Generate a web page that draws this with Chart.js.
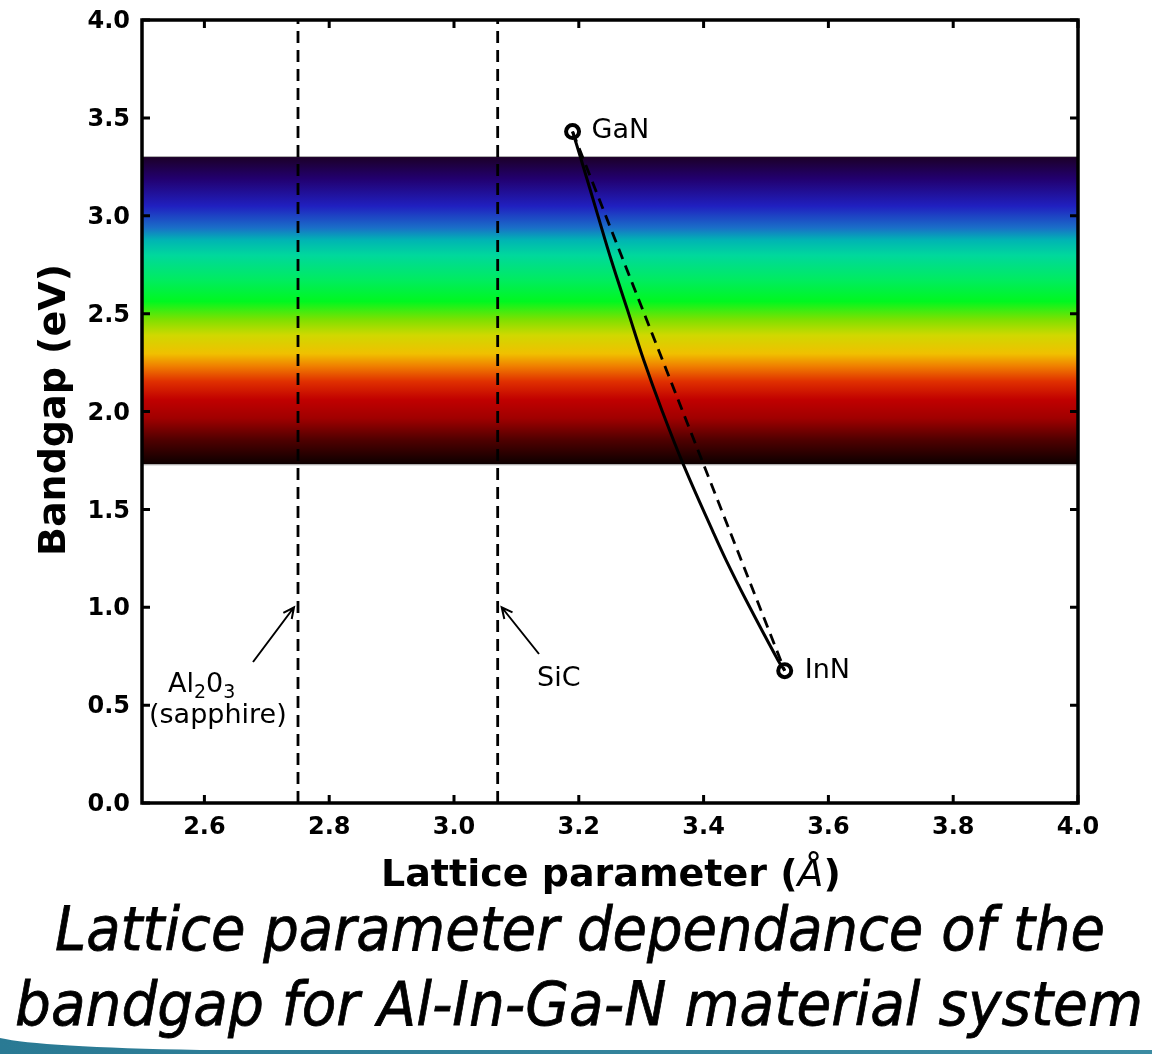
<!DOCTYPE html>
<html>
<head>
<meta charset="utf-8">
<script src="https://cdn.jsdelivr.net/npm/chart.js@4.4.0/dist/chart.umd.min.js"></script>
<style>
    html, body { margin: 0; padding: 0; background: #fff; }
    #wrap { width: 1152px; height: 1054px; }
</style>
</head>
<body>
<div id="wrap"><canvas id="bandgapChart" width="1152" height="1054"></canvas></div>
<script>
// Substrates (vertical dashed lines)
const substrateNames = ['Al2O3 (sapphire)', 'SiC'];
const substrateA = [2.75, 3.07];

// Binary end points
const binaryNames = ['GaN', 'InN'];
const binaryA = [3.19, 3.53];
const binaryE = [3.43, 0.676];

// InGaN bandgap with bowing
const bowA = [3.19, 3.204, 3.228, 3.252, 3.278, 3.304, 3.333, 3.369, 3.416, 3.436, 3.468, 3.519, 3.53];
const bowE = [3.43, 3.285, 3.029, 2.774, 2.519, 2.263, 2.008, 1.718, 1.379, 1.241, 1.037, 0.731, 0.676];

// Visible band (eV)
const visibleTop = 3.3;
const visibleBottom = 1.73;

// Axis ticks
const xTicks = [2.6, 2.8, 3.0, 3.2, 3.4, 3.6, 3.8, 4.0];
const yTicks = [0.0, 0.5, 1.0, 1.5, 2.0, 2.5, 3.0, 3.5, 4.0];

const FONT = '"DejaVu Sans", Verdana, sans-serif';

// Spectrum stops, top (3.3 eV) to bottom (1.73 eV)
const spectrumStops = [
    [0.00, '#1c0028'], [0.07, '#22006e'], [0.16, '#2020c0'], [0.23, '#1a6ec8'],
    [0.27, '#00b4b4'], [0.32, '#00d89c'], [0.40, '#00ec60'], [0.47, '#00f820'],
    [0.53, '#80e000'], [0.58, '#d0d800'], [0.64, '#f0c000'], [0.68, '#f08000'],
    [0.73, '#e03000'], [0.79, '#c00000'], [0.85, '#a00000'], [0.92, '#500000'],
    [1.00, '#0c0000']
];

// Draw the visible band behind the lines
const bandPlugin = {
    id: 'band',
    beforeDatasetsDraw(chart) {
        const { ctx, chartArea, scales } = chart;
        const yTop = scales.y.getPixelForValue(visibleTop);
        const yBot = scales.y.getPixelForValue(visibleBottom);
        const grad = ctx.createLinearGradient(0, yTop, 0, yBot);
        spectrumStops.forEach(s => grad.addColorStop(s[0], s[1]));
        ctx.save();
        ctx.fillStyle = grad;
        ctx.fillRect(chartArea.left, yTop, chartArea.right - chartArea.left, yBot - yTop);
        ctx.strokeStyle = '#b0b0b0';
        ctx.lineWidth = 1;
        ctx.beginPath();
        ctx.moveTo(chartArea.left, yTop - 0.5); ctx.lineTo(chartArea.right, yTop - 0.5);
        ctx.moveTo(chartArea.left, yBot + 0.5); ctx.lineTo(chartArea.right, yBot + 0.5);
        ctx.stroke();
        ctx.restore();
    }
};

function arrow(ctx, x0, y0, x1, y1) {
    const ang = Math.atan2(y1 - y0, x1 - x0);
    const len = 12;
    ctx.beginPath();
    ctx.moveTo(x0, y0); ctx.lineTo(x1, y1);
    ctx.moveTo(x1 - len * Math.cos(ang - 0.45), y1 - len * Math.sin(ang - 0.45));
    ctx.lineTo(x1, y1);
    ctx.lineTo(x1 - len * Math.cos(ang + 0.45), y1 - len * Math.sin(ang + 0.45));
    ctx.stroke();
}

// Frame, inward ticks, labels, titles and caption
const decorPlugin = {
    id: 'decor',
    afterDatasetsDraw(chart) {
        const { ctx, chartArea: ca, scales } = chart;
        const x = scales.x, y = scales.y;
        ctx.save();
        ctx.strokeStyle = '#000';
        ctx.lineWidth = 3;
        ctx.beginPath();
        xTicks.forEach(v => {
            const px = x.getPixelForValue(v);
            ctx.moveTo(px, ca.bottom); ctx.lineTo(px, ca.bottom - 8);
            ctx.moveTo(px, ca.top); ctx.lineTo(px, ca.top + 8);
        });
        yTicks.forEach(v => {
            const py = y.getPixelForValue(v);
            ctx.moveTo(ca.left, py); ctx.lineTo(ca.left + 8, py);
            ctx.moveTo(ca.right, py); ctx.lineTo(ca.right - 8, py);
        });
        ctx.stroke();
        ctx.lineWidth = 3.5;
        ctx.strokeRect(ca.left, ca.top, ca.right - ca.left, ca.bottom - ca.top);

        // point labels
        ctx.fillStyle = '#000';
        ctx.font = '27px ' + FONT;
        ctx.textBaseline = 'alphabetic';
        ctx.textAlign = 'left';
        ctx.fillText(binaryNames[0], x.getPixelForValue(binaryA[0]) + 19, y.getPixelForValue(binaryE[0]) + 6);
        ctx.fillText(binaryNames[1], x.getPixelForValue(binaryA[1]) + 20, y.getPixelForValue(binaryE[1]) + 7);

        // substrate labels
        ctx.fillText('SiC', 537, 686);
        let cx = 168;
        const parts = [['Al', 27, 0], ['2', 19, 6], ['0', 27, 0], ['3', 19, 6]];
        parts.forEach(p => {
            ctx.font = p[1] + 'px ' + FONT;
            ctx.fillText(p[0], cx, 692 + p[2]);
            cx += ctx.measureText(p[0]).width;
        });
        ctx.font = '27px ' + FONT;
        ctx.fillText('(sapphire)', 149, 723);

        ctx.lineWidth = 2;
        arrow(ctx, 253, 662, x.getPixelForValue(substrateA[0]) - 4, y.getPixelForValue(1.0));
        arrow(ctx, 539, 654, x.getPixelForValue(substrateA[1]) + 4, y.getPixelForValue(1.0));
        ctx.restore();
    },
    afterDraw(chart) {
        const { ctx } = chart;
        ctx.save();
        ctx.fillStyle = '#000';
        // y title
        ctx.font = 'bold 38px ' + FONT;
        ctx.textAlign = 'center';
        ctx.textBaseline = 'middle';
        ctx.translate(55, 410);
        ctx.rotate(-Math.PI / 2);
        ctx.fillText('Bandgap (eV)', 0, 0);
        ctx.setTransform(1, 0, 0, 1, 0, 0);

        // x title with italic Angstrom
        const t1 = 'Lattice parameter (', t2 = 'Å', t3 = ')';
        ctx.textAlign = 'left';
        ctx.textBaseline = 'alphabetic';
        ctx.font = 'bold 38px ' + FONT;
        const w1 = ctx.measureText(t1).width, w3 = ctx.measureText(t3).width;
        ctx.font = 'italic 38px ' + FONT;
        const w2 = ctx.measureText(t2).width;
        let tx = 611 - (w1 + w2 + w3) / 2;
        const ty = 886;
        ctx.font = 'bold 38px ' + FONT;
        ctx.fillText(t1, tx, ty); tx += w1;
        ctx.font = 'italic 38px ' + FONT;
        ctx.fillText(t2, tx, ty); tx += w2;
        ctx.font = 'bold 38px ' + FONT;
        ctx.fillText(t3, tx, ty);

        // caption (slightly heavier than plain italic)
        const lines = [
            ['Lattice parameter dependance of the', 55, 1105, 950],
            ['bandgap for Al-In-Ga-N material system', 15, 1143, 1025]
        ];
        ctx.font = 'italic 61px ' + FONT;
        ctx.strokeStyle = '#000';
        ctx.lineWidth = 0.8;
        lines.forEach(l => {
            const w = ctx.measureText(l[0]).width;
            const sx = (l[2] - l[1]) / w;
            ctx.setTransform(sx, 0, 0, 1, l[1], l[3]);
            ctx.fillText(l[0], 0, 0);
            ctx.strokeText(l[0], 0, 0);
        });
        ctx.setTransform(1, 0, 0, 1, 0, 0);

        // slide swoosh at the bottom
        const g = ctx.createLinearGradient(0, 0, 1152, 0);
        g.addColorStop(0, '#2a7a94');
        g.addColorStop(1, '#3c8ba2');
        ctx.fillStyle = g;
        ctx.beginPath();
        ctx.moveTo(0, 1038);
        ctx.quadraticCurveTo(40, 1047, 200, 1050);
        ctx.lineTo(1152, 1050);
        ctx.lineTo(1152, 1054);
        ctx.lineTo(0, 1054);
        ctx.closePath();
        ctx.fill();
        ctx.restore();
    }
};

function initChart() {
    const datasets = [];
    substrateA.forEach((a, i) => {
        datasets.push({
            label: substrateNames[i],
            data: [{ x: a, y: 0 }, { x: a, y: 4 }],
            showLine: true,
            borderColor: '#000',
            borderWidth: 2.8,
            borderDash: [12, 7],
            pointRadius: 0
        });
    });
    datasets.push({
        label: 'InGaN (bowing)',
        data: bowA.map((a, i) => ({ x: a, y: bowE[i] })),
        showLine: true,
        borderColor: '#000',
        borderWidth: 3,
        pointRadius: 0,
        tension: 0.4
    });
    datasets.push({
        label: 'Vegard',
        data: binaryA.map((a, i) => ({ x: a, y: binaryE[i] })),
        showLine: true,
        borderColor: '#000',
        borderWidth: 2.8,
        borderDash: [11, 7],
        pointRadius: 0
    });
    datasets.push({
        label: 'Binaries',
        data: binaryA.map((a, i) => ({ x: a, y: binaryE[i] })),
        showLine: false,
        pointRadius: 6.5,
        pointBorderWidth: 4,
        pointBorderColor: '#000',
        pointBackgroundColor: '#fff'
    });

    const noPad = s => { s.paddingTop = 0; s.paddingBottom = 0; s.paddingLeft = 0; s.paddingRight = 0; };

    const ctx = document.getElementById('bandgapChart').getContext('2d');
    new Chart(ctx, {
        type: 'scatter',
        data: { datasets },
        options: {
            responsive: false,
            animation: false,
            events: [],
            layout: { padding: { left: 0, right: 74, top: 20, bottom: 0 } },
            plugins: { legend: { display: false }, tooltip: { enabled: false } },
            scales: {
                x: {
                    type: 'linear', min: 2.5, max: 4.0,
                    grid: { display: false, drawTicks: false },
                    border: { display: false },
                    afterBuildTicks: s => { s.ticks = xTicks.map(v => ({ value: v })); },
                    afterFit: s => { s.height = 251; noPad(s); },
                    ticks: {
                        padding: 10, color: '#000', maxRotation: 0,
                        font: { family: FONT, size: 24, weight: 'bold' },
                        callback: v => v.toFixed(1)
                    }
                },
                y: {
                    type: 'linear', min: 0, max: 4.0,
                    grid: { display: false, drawTicks: false },
                    border: { display: false },
                    afterBuildTicks: s => { s.ticks = yTicks.map(v => ({ value: v })); },
                    afterFit: s => { s.width = 142; noPad(s); },
                    ticks: {
                        padding: 12, color: '#000', labelOffset: 2,
                        font: { family: FONT, size: 24, weight: 'bold' },
                        callback: v => v.toFixed(1)
                    }
                }
            }
        },
        plugins: [bandPlugin, decorPlugin]
    });
}

window.onload = initChart;
</script>
</body>
</html>
